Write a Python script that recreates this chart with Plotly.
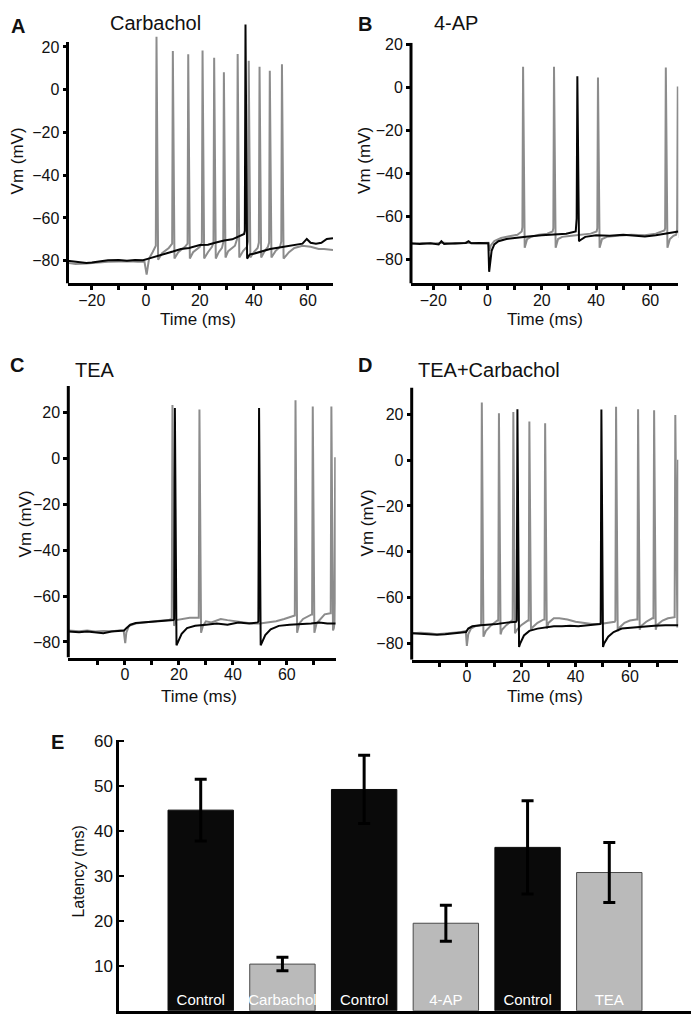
import plotly.graph_objects as go

W, H = 700, 1022
FONT = "Arial, Liberation Sans, sans-serif"
BLACK = "#050505"
GREY = "#8c8c8c"

# ---------------- Panel A: Carbachol ----------------
a_ctl_base_t = [-29, -25, -22, -20, -17, -14, -10, -7, -4, -1, 1, 2.5, 5, 8, 10, 13, 16, 20, 23, 26, 29, 32, 35, 36.4, 38.5, 40, 43, 46, 50, 53, 56, 58, 59.6, 61, 63, 65, 67, 69.3]
a_ctl_base_v = [-80, -80.5, -81, -80.8, -80.2, -79.8, -79.6, -80, -79.6, -79.8, -79, -78.5, -77.5, -76.5, -75.7, -74.5, -74, -72.6, -72.5, -71.5, -70.5, -70, -68.5, -67.5, -77, -76.7, -75.5, -74.5, -73.7, -73, -72.5, -72, -69.8, -71.6, -72, -71.6, -69.8, -69.5]
a_ctl_sp_t = [36.9]
a_ctl_sp_thr = [-66]
a_ctl_sp_pk = [30.5]
a_ctl_sp_tr = [-79]

a_drg_base_t = [-29, -26, -22, -18, -14, -10, -6, -3, -0.5, 0.3, 1.2, 2.5, 6.0, 8.5, 12.0, 14.5, 17.5, 20.0, 23.0, 24.5, 27.0, 28.2, 30.5, 33.0, 36.0, 37.4, 40.0, 41.4, 44.0, 45.2, 48.0, 49.7, 53.0, 55, 58, 61, 64, 66, 69.3]
a_drg_base_v = [-81, -81.5, -81.3, -80.8, -80.5, -80.4, -80.2, -80.5, -80.5, -86.5, -79, -76, -76.5, -74, -76, -73.5, -76, -73.5, -76, -73.5, -76, -74, -75.5, -73, -75.5, -73.5, -76, -74, -75.5, -73.5, -75.5, -73.5, -76, -74, -73, -73.5, -74.5, -74.5, -75]
a_drg_sp_t = [3.95, 10.0, 15.7, 21.0, 25.3, 28.9, 34.0, 38.1, 42.1, 45.9, 50.4]
a_drg_sp_thr = [-73, -72, -72, -71.5, -71.5, -71.5, -70, -71, -71.5, -71.5, -71]
a_drg_sp_pk = [24.8, 18.1, 16.6, 18.4, 15.0, 8.2, 16.7, 13.6, 10.8, 8.9, 11.9]
a_drg_sp_tr = [-79.5, -79, -79, -79, -79, -78.5, -78.5, -78.5, -78.5, -78.5, -79]

# ---------------- Panel B: 4-AP ----------------
b_ctl_base_t = [-28.2, -25, -21, -18, -17, -16, -12, -8, -7, -6, -3, 0.3, 0.6, 0.8, 1.5, 2.5, 4, 7, 10, 15, 20, 25, 29, 32.5, 34.0, 36, 40, 45, 50, 55, 58, 62, 66, 70.3]
b_ctl_base_v = [-72.5, -72.8, -72.5, -73, -71.5, -72.8, -72.5, -72.3, -71.5, -72.5, -72.3, -72.5, -85.7, -84, -76, -73, -71.5, -70.5, -70, -69.3, -68.8, -68.3, -68, -67, -71.2, -69.5, -68.8, -69, -68.5, -69, -69.3, -68.8, -68, -67]
b_ctl_sp_t = [33.1]
b_ctl_sp_thr = [-61]
b_ctl_sp_pk = [5.0]
b_ctl_sp_tr = [-71.5]

b_drg_base_t = [-28.2, -24, -20, -16, -12, -8, -4, 0.3, 0.7, 1.2, 2.5, 5, 8, 11, 12.6, 14.6, 16, 19, 22, 24.0, 26.0, 27.5, 31, 35, 38, 40.2, 42.2, 44, 48, 53, 58, 62, 65.2, 67.2, 68.5, 69.5]
b_drg_base_v = [-72.8, -72.3, -72.6, -72.2, -72.8, -72.2, -72.5, -72.3, -76, -73.5, -71.5, -70, -69.2, -68.5, -67, -70.5, -69.5, -68.5, -68, -67, -70.5, -69.5, -69, -68.5, -68, -67, -70.5, -69.5, -69, -68.5, -68.8, -68, -66.5, -70.5, -69, -68.5]
b_drg_sp_t = [13.1, 24.5, 40.7, 65.7, 70.1]
b_drg_sp_thr = [-65, -65.5, -65.5, -65.5, -66]
b_drg_sp_pk = [9.5, 9.5, 4.5, 9.1, 0.3]
b_drg_sp_tr = [-74.5, -74.5, -74.5, -74.5, -70]

# ---------------- Panel C: TEA ----------------
c_ctl_base_t = [-21, -17, -14, -11, -8, -5, -2, -0.3, 0.5, 2, 4, 7, 10, 13, 16, 18.0, 19.6, 21, 23, 26, 30, 34, 38, 42, 46, 49.2, 50.8, 52, 54, 57, 61, 65, 69, 72, 75, 78.1]
c_ctl_base_v = [-75.5, -75.8, -75.5, -76, -76.2, -75.5, -75, -75, -74, -72.5, -71.8, -71.5, -71, -71, -70.5, -70.5, -80, -76.5, -74, -73, -72.5, -72, -72.5, -71.5, -72, -71.5, -80, -77, -74.5, -73, -72.5, -72.3, -72, -71.5, -72, -72]
c_ctl_sp_t = [18.5, 49.7]
c_ctl_sp_thr = [-70, -71]
c_ctl_sp_pk = [22, 22]
c_ctl_sp_tr = [-81.5, -81.5]

c_drg_base_t = [-21, -17, -14, -11, -8, -5, -2, -0.5, 0.1, 0.5, 1.5, 4, 7, 10, 13, 16, 17.2, 19, 21, 24, 27.1, 28.9, 30, 32, 34, 35.5, 38, 41, 44, 47, 50, 53, 56, 59, 62.8, 64.6, 66, 69.2, 71.0, 72.5, 74, 76.1, 77.4]
c_drg_base_v = [-75, -75.3, -75, -75.5, -75.2, -75.4, -75, -75, -80.5, -76, -73, -72, -71.5, -71, -70.8, -70.5, -70, -70.5, -70, -69.5, -69.5, -73, -71, -71.5, -70.5, -70, -70.5, -71, -71.5, -72, -72, -71.5, -71, -70, -68.5, -72, -70, -68, -72, -70, -68, -67.5, -74]
c_drg_sp_t = [17.6, 27.6, 63.2, 69.6, 76.5, 77.9]
c_drg_sp_thr = [-70, -69.5, -68.5, -68, -67.5, -72]
c_drg_sp_pk = [23.2, 21.3, 25.3, 22.6, 22.6, 0.5]
c_drg_sp_tr = [-73, -76, -76, -76, -75, -72]

# ---------------- Panel D: TEA+Carbachol ----------------
d_ctl_base_t = [-20.3, -17, -14, -11, -8, -5, -2, -0.3, 0.5, 2, 5, 8, 11, 14, 17, 18.1, 19.6, 21, 23, 26, 29, 32, 35, 38, 41, 44, 47, 49.0, 50.5, 52, 54, 57, 61, 65, 69, 73, 77.8]
d_ctl_base_v = [-75.5, -75.8, -76, -76.2, -76, -75.5, -75.2, -75, -73.5, -72.5, -72, -71.8, -71.5, -71, -70.5, -70.5, -80, -76.5, -74.5, -73.5, -73, -72.5, -72.5, -72.3, -72.5, -72, -71.8, -71.5, -80, -77, -75, -73.5, -73, -72.5, -72.3, -72, -72]
d_ctl_sp_t = [18.6, 49.5]
d_ctl_sp_thr = [-70, -71]
d_ctl_sp_pk = [22.2, 22.0]
d_ctl_sp_tr = [-81.5, -81.5]

d_drg_base_t = [-20.3, -17, -14, -11, -8, -5, -2, -0.4, 0.0, 0.5, 1.5, 3, 4.8, 7.0, 9, 11.2, 12.9, 14.5, 16.6, 18.4, 20, 22.4, 24.1, 26, 28.3, 30, 32, 34, 37, 40, 43, 46, 49, 52, 54.4, 56.2, 58, 60, 62.3, 64.0, 66, 68.2, 69.9, 72, 74, 76.2]
d_drg_base_v = [-75.5, -75.3, -75.5, -76, -75.6, -75.3, -75, -74.5, -81, -76, -73.5, -72.5, -72, -74.5, -72, -70, -74, -72, -70, -74, -72, -70, -73, -71, -69.5, -71, -69, -69, -69.5, -70.5, -71, -71.5, -71.5, -71, -70.5, -73, -71, -70, -69.5, -72.5, -70.5, -69, -72, -70, -69, -68.5]
d_drg_sp_t = [5.5, 11.8, 17.1, 23.0, 28.8, 54.9, 63.0, 68.9, 76.7, 77.7]
d_drg_sp_thr = [-72, -70, -70, -70, -69.5, -70, -69.5, -69, -68.5, -73]
d_drg_sp_pk = [25.1, 20.4, 21.0, 16.8, 16.0, 23.3, 22.2, 21.7, 19.6, 0.1]
d_drg_sp_tr = [-77, -76, -75.5, -74, -73.5, -74.5, -74, -74, -73, -72]

# ---------------- Panel E: latency bars ----------------
e_labels = ["Control", "Carbachol", "Control", "4-AP", "Control", "TEA"]
e_values = [44.7, 10.4, 49.3, 19.5, 36.4, 30.8]
e_errors = [6.9, 1.5, 7.6, 4.0, 10.4, 6.7]
e_is_control = [True, False, True, False, True, False]


def build(base_t, base_v, sp_t, sp_thr, sp_pk, sp_tr):
    pts = []
    for t, v in zip(base_t, base_v):
        if any(s - 0.25 <= t <= s + 0.6 for s in sp_t):
            continue
        pts.append((t, v))
    for s, th, pk, tr in zip(sp_t, sp_thr, sp_pk, sp_tr):
        pts += [(s - 0.25, th), (s, pk), (s + 0.6, tr)]
    pts.sort()
    return [p[0] for p in pts], [p[1] for p in pts]


def px_x(px):
    return px / W


def px_y(py):
    return 1 - py / H


fig = go.Figure()

# name, axis suffix, ctl, drug, xdomain px, ydomain px, xrange, yrange, visible y-axis top, major, minor
panels = [
    ("A", "", (a_ctl_base_t, a_ctl_base_v, a_ctl_sp_t, a_ctl_sp_thr, a_ctl_sp_pk, a_ctl_sp_tr),
     (a_drg_base_t, a_drg_base_v, a_drg_sp_t, a_drg_sp_thr, a_drg_sp_pk, a_drg_sp_tr),
     (67.5, 333), (15.3, 278.3), [-29, 69.3], [-90.6, 31.6], 22.3, [-20, 0, 20, 40, 60], [-10, 10, 30, 50]),
    ("B", "2", (b_ctl_base_t, b_ctl_base_v, b_ctl_sp_t, b_ctl_sp_thr, b_ctl_sp_pk, b_ctl_sp_tr),
     (b_drg_base_t, b_drg_base_v, b_drg_sp_t, b_drg_sp_thr, b_drg_sp_pk, b_drg_sp_tr),
     (411, 678.3), (36, 278.3), [-28.2, 70.3], [-91.1, 20.6], 20.6, [-20, 0, 20, 40, 60], [-10, 10, 30, 50]),
    ("C", "3", (c_ctl_base_t, c_ctl_base_v, c_ctl_sp_t, c_ctl_sp_thr, c_ctl_sp_pk, c_ctl_sp_tr),
     (c_drg_base_t, c_drg_base_v, c_drg_sp_t, c_drg_sp_thr, c_drg_sp_pk, c_drg_sp_tr),
     (68.3, 335.7), (381.7, 655), [-21, 78.1], [-86.8, 31.5], 31.5, [0, 20, 40, 60], [-10, 10, 30, 50, 70]),
    ("D", "4", (d_ctl_base_t, d_ctl_base_v, d_ctl_sp_t, d_ctl_sp_thr, d_ctl_sp_pk, d_ctl_sp_tr),
     (d_drg_base_t, d_drg_base_v, d_drg_sp_t, d_drg_sp_thr, d_drg_sp_pk, d_drg_sp_tr),
     (411.7, 678.3), (383, 657.3), [-20.3, 77.8], [-87.1, 31.7], 31.7, [0, 20, 40, 60], [-10, 10, 30, 50, 70]),
]

axis_common = dict(showgrid=False, zeroline=False,
                   ticks="outside", ticklen=4, tickwidth=2.5, tickcolor="black",
                   tickfont=dict(family=FONT, size=16, color="#111"))

shapes = []
for name, suf, ctl, drg, xd, yd, xr, yr, ytop, major, minor in panels:
    xa = "x" + suf
    ya = "y" + suf
    tx, vy = build(*drg)
    fig.add_trace(go.Scatter(x=tx, y=vy, mode="lines", line=dict(color=GREY, width=2),
                             xaxis=xa, yaxis=ya, showlegend=False, hoverinfo="skip"))
    tx, vy = build(*ctl)
    fig.add_trace(go.Scatter(x=tx, y=vy, mode="lines", line=dict(color=BLACK, width=2),
                             xaxis=xa, yaxis=ya, showlegend=False, hoverinfo="skip"))
    xkey = "xaxis" + suf
    ykey = "yaxis" + suf
    fig.layout[xkey] = dict(axis_common, showline=True, linewidth=3, linecolor="black",
                            domain=[px_x(xd[0]), px_x(xd[1])], range=xr,
                            anchor=ya, tickmode="array", tickvals=major, ticklabelstandoff=-4,
                            minor=dict(tickmode="array", tickvals=minor, ticks="outside",
                                       ticklen=4, tickwidth=2.5, tickcolor="black"))
    fig.layout[ykey] = dict(axis_common, showline=False,
                            domain=[px_y(yd[1]), px_y(yd[0])], range=yr,
                            anchor=xa, tickmode="array", tickvals=[-80, -60, -40, -20, 0, 20])
    # vertical axis line (stops at the axis top even when a spike overshoots it)
    shapes.append(dict(type="line", xref=xa + " domain", yref=ya, x0=0, x1=0, y0=yr[0], y1=ytop,
                       line=dict(color="black", width=3), layer="above"))

# Panel E bars
pos = list(range(len(e_labels)))
for ctl_flag, color, line_color in [(True, "#0a0a0a", "#0a0a0a"), (False, "#bababa", "#4a4a4a")]:
    idx = [i for i in pos if e_is_control[i] == ctl_flag]
    fig.add_trace(go.Bar(
        x=[pos[i] for i in idx], y=[e_values[i] for i in idx],
        error_y=dict(type="data", array=[e_errors[i] for i in idx], color="black", thickness=3, width=6),
        marker=dict(color=color, line=dict(color=line_color, width=1)),
        text=[e_labels[i] for i in idx], textposition="inside", insidetextanchor="start",
        textangle=0, constraintext="none", cliponaxis=False,
        textfont=dict(family=FONT, size=15, color="white"),
        width=0.8, xaxis="x5", yaxis="y5", showlegend=False, hoverinfo="skip"))

fig.layout["xaxis5"] = dict(domain=[px_x(119), px_x(691)], range=[-1.0, 6.0], anchor="y5",
                            showline=True, linewidth=2.5, linecolor="black", showgrid=False,
                            zeroline=False, showticklabels=False, ticks="")
fig.layout["yaxis5"] = dict(domain=[px_y(1010.7), px_y(737.7)], range=[0, 60.4], anchor="x5",
                            showline=True, linewidth=2.5, linecolor="black", showgrid=False,
                            zeroline=False, ticks="inside", ticklen=5, tickwidth=2, tickcolor="black",
                            tickmode="array", tickvals=[10, 20, 30, 40, 50, 60],
                            tickfont=dict(family=FONT, size=17, color="#111"))

ann = []


def add_text(x, y, text, size, bold=False, angle=0):
    ann.append(dict(x=px_x(x), y=px_y(y), xref="paper", yref="paper", text=("<b>%s</b>" % text) if bold else text,
                    showarrow=False, xanchor="center", yanchor="middle", textangle=angle,
                    font=dict(family=FONT, size=size, color="#111")))


add_text(18, 19, "A", 20, bold=True)
add_text(155, 16, "Carbachol", 20)
add_text(364.5, 17, "B", 20, bold=True)
add_text(455.5, 16.5, "4-AP", 20)
add_text(17, 360, "C", 20, bold=True)
add_text(95, 365, "TEA", 20)
add_text(365, 360.5, "D", 20, bold=True)
add_text(489, 365.5, "TEA+Carbachol", 20)
add_text(57.5, 740, "E", 20, bold=True)

add_text(17.5, 155, "Vm (mV)", 17, angle=-90)
add_text(365, 155, "Vm (mV)", 17, angle=-90)
add_text(25, 521, "Vm (mV)", 17, angle=-90)
add_text(367, 519, "Vm (mV)", 17, angle=-90)
add_text(198, 315, "Time (ms)", 17)
add_text(545, 315, "Time (ms)", 17)
add_text(199, 694, "Time (ms)", 17)
add_text(545, 694, "Time (ms)", 17)
add_text(78.5, 871, "Latency (ms)", 16, angle=-90)

fig.update_layout(width=W, height=H, margin=dict(l=0, r=0, t=0, b=0),
                  paper_bgcolor="white", plot_bgcolor="white", annotations=ann, shapes=shapes,
                  barmode="overlay", font=dict(family=FONT))

fig.write_html("out.html", config={"displayModeBar": False}, post_script=(
    "document.body.style.margin='0';document.body.style.padding='0';"
    "var d=document.getElementById('{plot_id}');"
    "d.style.position='absolute';d.style.left='0px';d.style.top='0px';"))
